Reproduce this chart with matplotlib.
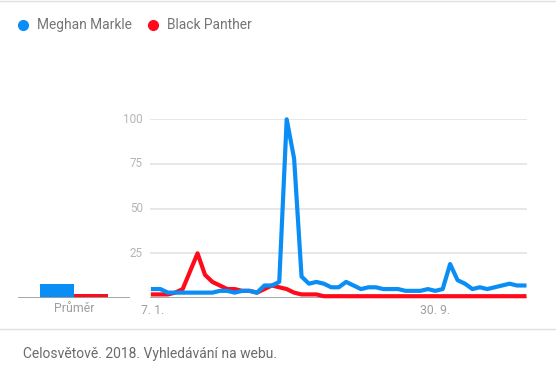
import numpy as np
import matplotlib
matplotlib.use("Agg")
import matplotlib.pyplot as plt
from matplotlib.lines import Line2D

plt.rcParams['font.family'] = ['Roboto', 'DejaVu Sans']

series_names = ["Meghan Markle", "Black Panther"]
colors = ["#0a8ef5", "#ff0a1a"]
# weekly values, 7. 1. 2018 .. 23. 12. 2018
meghan = [5, 5, 3, 3, 3, 3, 3, 3, 3, 4, 4, 3, 4, 4, 3, 7, 7, 9, 100, 78,
          12, 8, 9, 8, 6, 6, 9, 7, 5, 6, 6, 5, 5, 5, 4, 4, 4, 5, 4, 5,
          19, 10, 8, 5, 6, 5, 6, 7, 8, 7, 7]
panther = [2, 2, 2, 3, 5, 15, 25, 13, 9, 7, 5, 5, 4, 4, 3, 5, 7, 6, 5, 3,
           2, 2, 2, 1, 1, 1, 1, 1, 1, 1, 1, 1, 1, 1, 1, 1, 1, 1, 1, 1,
           1, 1, 1, 1, 1, 1, 1, 1, 1, 1, 1]
averages = [8, 2]
yticks = [25, 50, 75, 100]
xtick_idx = [0, 38]
xtick_labels = ["7. 1.", "30. 9."]
avg_label = "Průměr"
footer = "Celosvětově. 2018. Vyhledávání na webu."

W, H = 556, 373
fig = plt.figure(figsize=(W / 100, H / 100), dpi=100)

def fx(px):
    return px / W

def fy(py):
    return 1 - py / H

# average bars axes (drawn first, transparent)
ax2 = fig.add_axes([fx(18), fy(298), fx(130 - 18), (298 - 119.3) / H])
ax2.patch.set_visible(False)
ax2.set_xlim(0, 112)
ax2.set_ylim(0, 100)
ax2.bar([39, 73], averages, width=34, color=colors, align="center")
ax2.axhline(0, color="#9e9e9e", lw=1.3)
for s in ax2.spines.values():
    s.set_visible(False)
ax2.set_xticks([])
ax2.set_yticks([])
fig.text(fx(74), fy(309), avg_label, ha="center", va="center",
         fontsize=8.8, color="#9e9e9e")

# main chart axes: y=0 at 298px, y=100 at 119.3px
ax = fig.add_axes([fx(150), fy(298), fx(527 - 150), (298 - 119.3) / H])
ax.patch.set_visible(False)
x = np.arange(len(meghan))
ax.set_xlim(-0.4, len(meghan) - 1 + 0.35)
ax.set_ylim(0, 100)
for v in yticks:
    ax.axhline(v, color="#e0e0e0", lw=1.1, zorder=0)
ax.axhline(0, color="#9e9e9e", lw=1.3, zorder=3)
ax.plot(x, panther, color=colors[1], lw=3.0, zorder=4, clip_on=False)
ax.plot(x, meghan, color=colors[0], lw=3.0, zorder=5, clip_on=False)
for s in ax.spines.values():
    s.set_visible(False)
ax.set_yticks([])
ax.set_xticks([])
for v in yticks:
    ax.annotate(str(v), xy=(0, v), xycoords=("axes fraction", "data"),
                xytext=(-7, 0), textcoords="offset pixels",
                ha="right", va="center", fontsize=8.4, color="#b5b5b5")
for i, lab in zip(xtick_idx, xtick_labels):
    ax.annotate(lab, xy=(i, 0), xycoords="data", xytext=(0, -13),
                textcoords="offset pixels", ha="center", va="center",
                fontsize=8.8, color="#9e9e9e")

# legend
lx = [23, 153]
for i, name in enumerate(series_names):
    fig.add_artist(Line2D([fx(lx[i])], [fy(25)], marker="o", markersize=7,
                          color=colors[i], linestyle="none"))
    fig.text(fx(lx[i] + 14), fy(25), name, ha="left", va="center",
             fontsize=9.9, color="#757575")

# separators
fig.add_artist(Line2D([0, 1], [fy(1), fy(1)], color="#e0e0e0", lw=1))
fig.add_artist(Line2D([0, 1], [fy(329), fy(329)], color="#e0e0e0", lw=1))
fig.text(fx(23), fy(354), footer, ha="left", va="center",
         fontsize=10.0, color="#6b6b6b")

fig.savefig("out.png", dpi=100)
